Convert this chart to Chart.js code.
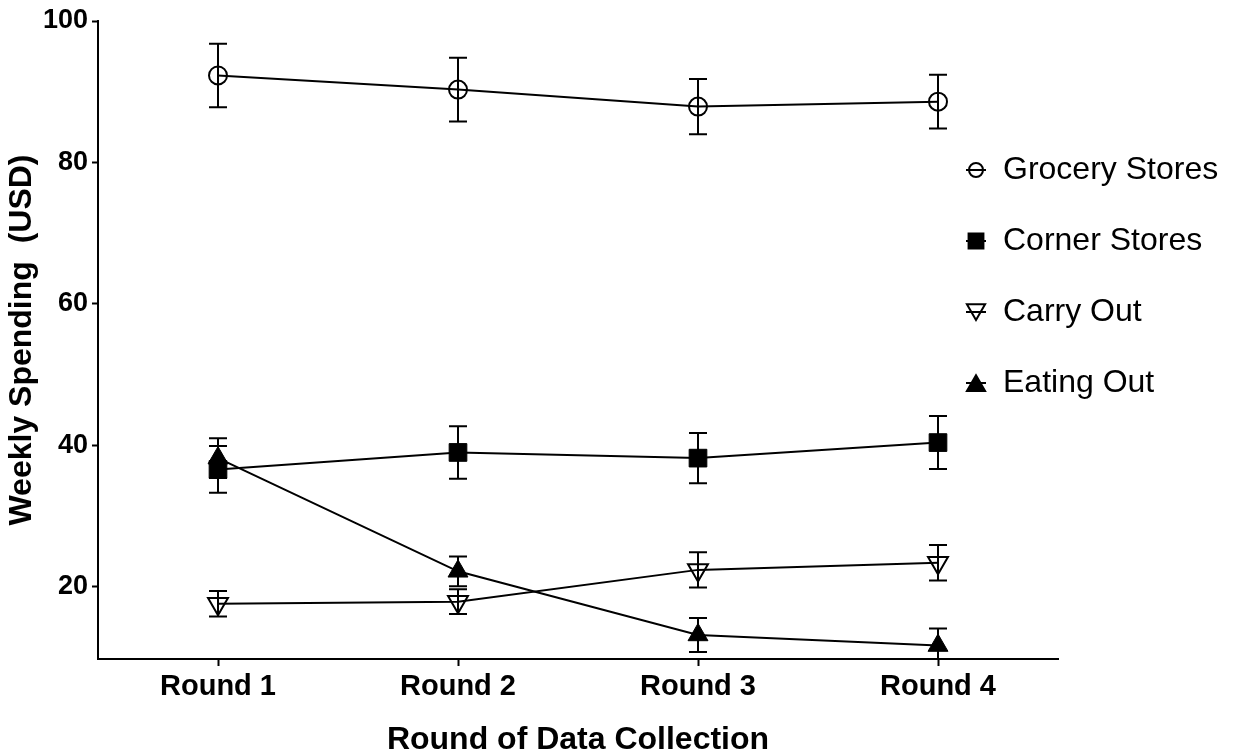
<!DOCTYPE html>
<html>
<head>
<meta charset="utf-8">
<title>Weekly Spending by Round</title>
<script src="https://cdn.jsdelivr.net/npm/chart.js@4.4.1/dist/chart.umd.min.js"></script>
<style>
    html, body { margin: 0; padding: 0; background: #fff; }
    #wrap { width: 1234px; height: 756px; }
</style>
</head>
<body>
<div id="wrap"><canvas id="spendingChart"></canvas></div>
<script>
// Categories and tick labels
const rounds = ['Round 1', 'Round 2', 'Round 3', 'Round 4'];
const yTicks = [20, 40, 60, 80, 100];

// Mean weekly spending (USD)
const groceryStores = [92.3, 90.3, 87.9, 88.6];
const cornerStores = [36.6, 39.0, 38.2, 40.4];
const carryOut = [17.6, 17.9, 22.4, 23.4];
const eatingOut = [38.2, 22.2, 13.2, 11.7];

// Error bar half lengths
const groceryErr = [4.5, 4.5, 3.9, 3.8];
const cornerErr = [3.3, 3.7, 3.55, 3.75];
const carryErr = [1.8, 1.75, 2.5, 2.5];
const eatingErr = [2.8, 2.1, 2.4, 2.4];

const fontFamily = '"Liberation Sans", Arial, sans-serif';
const capHalf = 9;

// Legend placement (right side)
const legendSymbolX = 976;
const legendTextX = 1003;
const legendTop = 170;
const legendGap = 71;

// Draws vertical error bars with caps under the markers
const errorBarPlugin = {
    id: 'errorBars',
    beforeDatasetsDraw(chart) {
        const ctx = chart.ctx;
        const area = chart.chartArea;
        const yScale = chart.scales.y;
        ctx.save();
        ctx.beginPath();
        ctx.rect(area.left, area.top - 2, area.right - area.left, area.bottom - area.top + 2);
        ctx.clip();
        ctx.strokeStyle = '#000';
        ctx.lineWidth = 2;
        chart.data.datasets.forEach((ds, i) => {
            const meta = chart.getDatasetMeta(i);
            meta.data.forEach((pt, j) => {
                const top = yScale.getPixelForValue(ds.data[j] + ds.errors[j]);
                const bottom = yScale.getPixelForValue(ds.data[j] - ds.errors[j]);
                ctx.beginPath();
                ctx.moveTo(pt.x, top);
                ctx.lineTo(pt.x, bottom);
                ctx.moveTo(pt.x - capHalf, top);
                ctx.lineTo(pt.x + capHalf, top);
                ctx.moveTo(pt.x - capHalf, bottom);
                ctx.lineTo(pt.x + capHalf, bottom);
                ctx.stroke();
            });
        });
        ctx.restore();
    }
};

// Prism style legend: symbol with a line through it, then the label
const sideLegendPlugin = {
    id: 'sideLegend',
    afterDraw(chart) {
        const ctx = chart.ctx;
        ctx.save();
        chart.data.datasets.forEach((ds, i) => {
            const y = legendTop + i * legendGap;
            ctx.strokeStyle = '#000';
            ctx.lineWidth = 2;
            ctx.beginPath();
            ctx.moveTo(legendSymbolX - 10, y);
            ctx.lineTo(legendSymbolX + 10, y);
            ctx.stroke();

            let r = 7;
            let dy = 0;
            if (ds.pointStyle === 'rect') r = 10.5;
            if (ds.pointStyle === 'triangle') {
                r = 10.5;
                dy = ds.pointRotation === 180 ? -r / 4 : r / 4;
            }
            ctx.fillStyle = ds.pointBackgroundColor;
            ctx.strokeStyle = '#000';
            ctx.lineWidth = 2;
            Chart.helpers.drawPoint(ctx, {
                pointStyle: ds.pointStyle,
                rotation: ds.pointRotation || 0,
                radius: r,
                borderWidth: 2
            }, legendSymbolX, y + dy);

            ctx.fillStyle = '#000';
            ctx.font = '32px ' + fontFamily;
            ctx.textAlign = 'left';
            ctx.textBaseline = 'middle';
            ctx.fillText(ds.label, legendTextX, y);
        });
        ctx.restore();
    }
};

function initializeChart() {
    const ctx = document.getElementById('spendingChart').getContext('2d');
    new Chart(ctx, {
        type: 'line',
        data: {
            labels: rounds,
            datasets: [
                {
                    label: 'Grocery Stores',
                    data: groceryStores,
                    errors: groceryErr,
                    borderColor: '#000',
                    borderWidth: 2,
                    pointStyle: 'circle',
                    pointRadius: 9,
                    pointBorderWidth: 2,
                    pointBorderColor: '#000',
                    pointBackgroundColor: 'rgba(0,0,0,0)',
                    tension: 0
                },
                {
                    label: 'Corner Stores',
                    data: cornerStores,
                    errors: cornerErr,
                    borderColor: '#000',
                    borderWidth: 2,
                    pointStyle: 'rect',
                    pointRadius: 12.5,
                    pointBorderWidth: 1,
                    pointBorderColor: '#000',
                    pointBackgroundColor: '#000',
                    tension: 0
                },
                {
                    label: 'Carry Out',
                    data: carryOut,
                    errors: carryErr,
                    borderColor: '#000',
                    borderWidth: 2,
                    pointStyle: 'triangle',
                    pointRotation: 180,
                    pointRadius: 11.5,
                    pointBorderWidth: 2,
                    pointBorderColor: '#000',
                    pointBackgroundColor: 'rgba(0,0,0,0)',
                    tension: 0
                },
                {
                    label: 'Eating Out',
                    data: eatingOut,
                    errors: eatingErr,
                    borderColor: '#000',
                    borderWidth: 2,
                    pointStyle: 'triangle',
                    pointRadius: 11.5,
                    pointBorderWidth: 1,
                    pointBorderColor: '#000',
                    pointBackgroundColor: '#000',
                    tension: 0
                }
            ]
        },
        options: {
            responsive: true,
            maintainAspectRatio: false,
            animation: false,
            devicePixelRatio: 1,
            layout: {
                padding: { top: 21, right: 176, bottom: 0, left: 0 }
            },
            plugins: {
                legend: { display: false },
                tooltip: { enabled: false }
            },
            scales: {
                x: {
                    type: 'category',
                    offset: true,
                    grid: {
                        offset: false,
                        drawOnChartArea: false,
                        drawTicks: true,
                        tickLength: 7,
                        tickWidth: 2,
                        tickColor: '#000'
                    },
                    border: { display: true, color: '#000', width: 2 },
                    ticks: {
                        color: '#000',
                        autoSkip: false,
                        maxRotation: 0,
                        padding: 4,
                        font: { family: fontFamily, size: 29, weight: 'bold' }
                    },
                    title: {
                        display: true,
                        text: 'Round of Data Collection',
                        color: '#000',
                        padding: 0,
                        font: { family: fontFamily, size: 32, weight: 'bold', lineHeight: 1 }
                    },
                    afterFit(scale) { scale.height = 97; }
                },
                y: {
                    min: 9.8,
                    max: 100,
                    afterBuildTicks(scale) {
                        scale.ticks = yTicks.map(v => ({ value: v }));
                    },
                    grid: {
                        drawOnChartArea: false,
                        drawTicks: true,
                        tickLength: 6,
                        tickWidth: 2,
                        tickColor: '#000'
                    },
                    border: { display: true, color: '#000', width: 2 },
                    ticks: {
                        color: '#000',
                        padding: 4,
                        font: { family: fontFamily, size: 27, weight: 'bold' }
                    },
                    title: {
                        display: true,
                        text: 'Weekly Spending  (USD)',
                        color: '#000',
                        padding: { top: 6, bottom: 0 },
                        font: { family: fontFamily, size: 32, weight: 'bold', lineHeight: 1 }
                    },
                    afterFit(scale) { scale.width = 98; }
                }
            }
        },
        plugins: [errorBarPlugin, sideLegendPlugin]
    });
}

document.addEventListener('DOMContentLoaded', function () {
    initializeChart();
});
</script>
</body>
</html>
